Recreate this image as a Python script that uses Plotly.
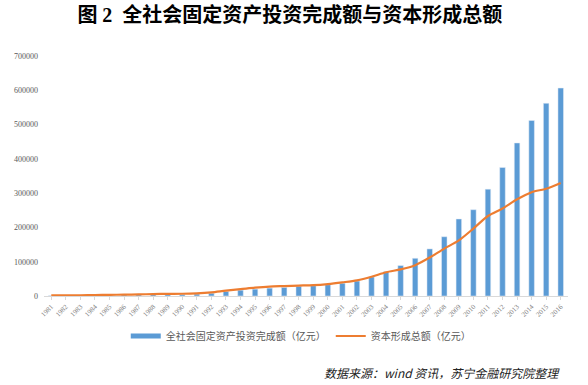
import plotly.graph_objects as go

years = [str(y) for y in range(1981, 2017)]
fai = [961, 1230, 1430, 1833, 2543, 3121, 3792, 4754, 4410, 4517,
       5595, 8080, 13072, 17042, 20019, 22914, 24941, 28406, 29855, 32918,
       37214, 43500, 55567, 70477, 88774, 109998, 137324, 172828, 224599, 251684,
       311485, 374695, 446294, 512021, 561999, 606466]
gcf = [1944, 2012, 2247, 2789, 3457, 3941, 4462, 5700, 6333, 6555,
       7892, 10834, 15783, 19916, 24342, 27556, 28966, 30396, 31666, 34843,
       39769, 45565, 55963, 69168, 77534, 89823, 112047, 138243, 162118, 196653,
       233327, 255240, 282073, 302717, 312836, 329727]
yticks = [0, 100000, 200000, 300000, 400000, 500000, 600000, 700000]

name1 = "全社会固定资产投资完成额（亿元）"
name2 = "资本形成总额（亿元）"
blue = "#5B9BD5"
orange = "#ED7D31"
cjk = "Liberation Serif, Noto Sans CJK SC"

fig = go.Figure()
fig.add_trace(go.Bar(x=years, y=fai, name=name1, marker_color=blue,
                     showlegend=False, width=0.38))
fig.add_trace(go.Scatter(x=years, y=gcf, name=name2, mode="lines",
                         line=dict(color=orange, width=2.2, shape="spline", smoothing=0.8),
                         showlegend=False))
# legend entries
fig.add_trace(go.Scatter(x=[None], y=[None], name=name1, mode="lines",
                         line=dict(color=blue, width=5)))
fig.add_trace(go.Scatter(x=[None], y=[None], name=name2, mode="lines",
                         line=dict(color=orange, width=2)))

fig.update_layout(
    width=588, height=385,
    margin=dict(l=44, r=20, t=56, b=89, autoexpand=False),
    paper_bgcolor="white", plot_bgcolor="white",
    font=dict(family=cjk, color="#595959"),
    title=dict(text="<b>图 2&nbsp;&nbsp;全社会固定资产投资完成额与资本形成总额</b>",
               x=0.493, xanchor="center", yref="container", y=1 - 15/385, yanchor="middle",
               font=dict(size=20, color="#000000", family="Liberation Serif, Noto Sans CJK SC")),
    legend=dict(orientation="h", x=0.49, xanchor="center", yref="container",
                y=1 - 336/385, yanchor="middle",
                font=dict(size=10, color="#595959", family="Noto Sans CJK SC"),
                itemwidth=30, tracegroupgap=0),
    showlegend=True,
)
fig.update_xaxes(type="category", tickangle=-45, showline=True, linecolor="#D9D9D9",
                 linewidth=1, ticks="outside", tickcolor="#D9D9D9", ticklen=3,
                 tickfont=dict(size=7, family="Liberation Serif", color="#7F7F7F"),
                 showgrid=False, automargin=False)
fig.update_yaxes(range=[0, 700000], tickvals=yticks, tickformat="d",
                 showgrid=False, zeroline=False, showline=False,
                 tickfont=dict(size=8, family="Liberation Serif", color="#595959"),
                 ticklabelstandoff=5, automargin=False)
fig.add_annotation(text="<i>数据来源：wind 资讯，苏宁金融研究院整理</i>",
                   xref="paper", yref="paper", x=(562 - 44) / 524, xanchor="right",
                   y=-(372 - 296) / 240, yanchor="middle", showarrow=False,
                   font=dict(size=12, color="#222222", family="Noto Sans CJK SC"))
fig.write_html("out.html", config={"displayModeBar": False},
               post_script="document.body.style.margin='0';document.body.style.overflow='hidden';")
